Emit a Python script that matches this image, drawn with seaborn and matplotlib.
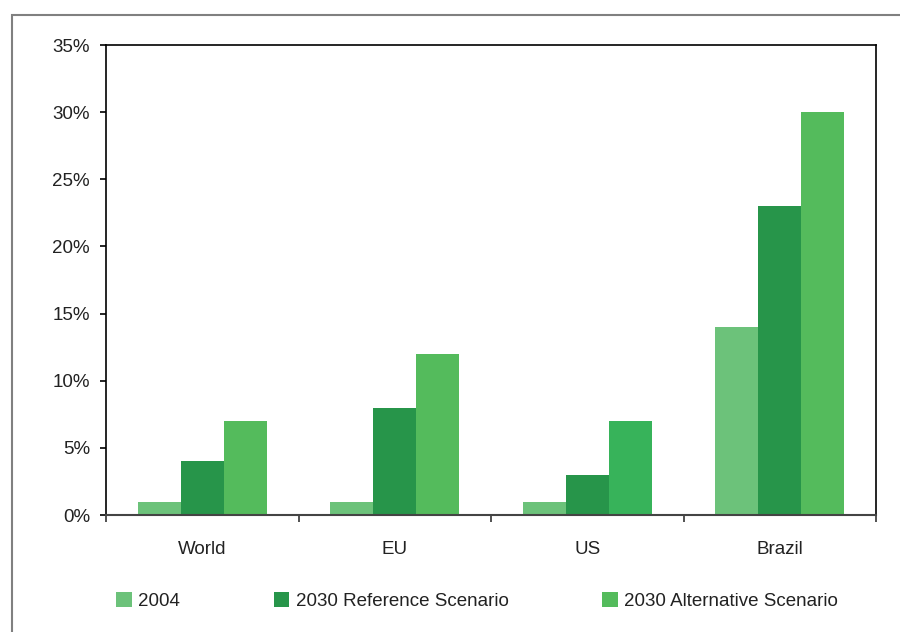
import matplotlib
matplotlib.use("Agg")
import matplotlib.pyplot as plt
import matplotlib.patches as mpatches
import seaborn as sns
import pandas as pd
from matplotlib.ticker import FixedLocator, FuncFormatter

regions = ["World", "EU", "US", "Brazil"]
series = ["2004", "2030 Reference Scenario", "2030 Alternative Scenario"]
v2004 = [1, 1, 1, 14]
v2030_ref = [4, 8, 3, 23]
v2030_alt = [7, 12, 7, 30]
yticks = [0, 5, 10, 15, 20, 25, 30, 35]

colors = ["#6cc27a", "#27954a", "#54bb5c"]
us_alt_color = "#37b35a"

rows = []
for s, vals in zip(series, [v2004, v2030_ref, v2030_alt]):
    for r, v in zip(regions, vals):
        rows.append({"region": r, "series": s, "value": v})
df = pd.DataFrame(rows)

sns.set_theme(style="white")
plt.rcParams["font.family"] = ["Liberation Sans", "DejaVu Sans"]

FS = 13.5

fig = plt.figure(figsize=(9, 6.32), dpi=100)
ax = fig.add_axes([106 / 900, 117 / 632, 770 / 900, 470 / 632])

sns.barplot(data=df, x="region", y="value", hue="series", order=regions,
            hue_order=series, palette=colors, width=0.67, gap=0,
            saturation=1, ax=ax, legend=False, linewidth=0)

# slightly different shade on US alternative bar
ax.containers[2][2].set_facecolor(us_alt_color)

ax.set_ylim(0, 35)
ax.set_xlim(-0.5, 3.5)
ax.yaxis.set_major_locator(FixedLocator(yticks))
ax.yaxis.set_major_formatter(FuncFormatter(lambda v, p: f"{int(v)}%"))
ax.tick_params(axis="y", which="major", direction="out", length=4.5, width=1.2,
               color="black", left=True, pad=7, labelsize=FS, labelcolor="#222222")
ax.set_xticks(range(len(regions)))
ax.set_xticklabels(regions)
ax.tick_params(axis="x", which="major", length=0, pad=19, labelsize=FS,
               labelcolor="#222222")
ax.xaxis.set_minor_locator(FixedLocator([-0.5, 0.5, 1.5, 2.5, 3.5]))
ax.tick_params(axis="x", which="minor", direction="out", length=5, width=1.2,
               color="#333333", bottom=True)
ax.set_xlabel("")
ax.set_ylabel("")

for side in ["left", "top", "right"]:
    ax.spines[side].set_visible(True)
    ax.spines[side].set_color("black")
    ax.spines[side].set_linewidth(1.2)
ax.spines["bottom"].set_color("#444444")
ax.spines["bottom"].set_linewidth(1.5)

handles = [mpatches.Patch(facecolor=c, edgecolor="none", label=s)
           for c, s in zip(colors, series)]
fig.legend(handles=handles, loc="center", bbox_to_anchor=(477 / 900, 31 / 632),
           ncol=3, frameon=False, fontsize=FS, handlelength=0.85,
           handleheight=0.85, handletextpad=0.33, columnspacing=5.0,
           labelcolor="#222222")

frame = mpatches.Rectangle((12 / 900, -0.2), 1.2, 0.2 + (632 - 15) / 632,
                           transform=fig.transFigure, fill=False,
                           edgecolor="#808080", linewidth=1.5, clip_on=False)
fig.patches.append(frame)

fig.savefig("out.png", dpi=100)
